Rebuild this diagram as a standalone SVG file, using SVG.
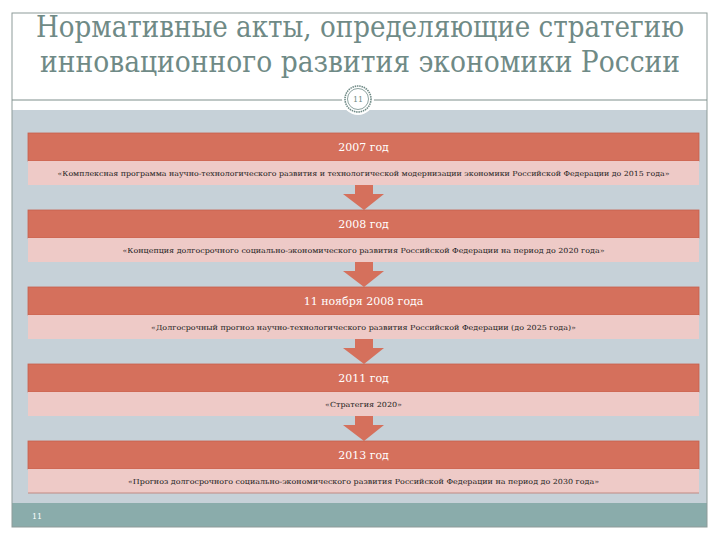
<svg xmlns="http://www.w3.org/2000/svg" width="720" height="540" viewBox="0 0 720 540">
<style>
.title{font-family:'DejaVu Serif Condensed','DejaVu Serif',serif;font-size:30px;fill:#6f8a86;text-anchor:middle}
.hdr{fill:#d5705c;stroke:#c6604d;stroke-width:0.8}
.pink{fill:#eecac7}
.ht{font-family:'DejaVu Serif','Liberation Serif',serif;font-size:11px;fill:#ffffff;text-anchor:middle}
.pt{font-family:'DejaVu Serif','Liberation Serif',serif;font-size:7px;fill:#1a1a1a;text-anchor:middle}
.arrow{fill:#d5705c}
</style>
<rect x="0" y="0" width="720" height="540" fill="#ffffff"/>
<rect x="12" y="110" width="695" height="393" fill="#c6d1d8"/>
<rect x="12" y="503" width="695" height="24" fill="#8aacab"/>
<rect x="12" y="13" width="695" height="514" fill="none" stroke="#8e9b99" stroke-width="1"/>
<line x1="12" y1="100" x2="707" y2="100" stroke="#7f8f8c" stroke-width="1"/>
<text class="title" x="360" y="37" textLength="648" lengthAdjust="spacingAndGlyphs">Нормативные акты, определяющие стратегию</text>
<text class="title" x="360" y="72" textLength="640" lengthAdjust="spacingAndGlyphs">инновационного развития экономики России</text>
<g id="badge">
<circle cx="358" cy="99" r="16" fill="#ffffff"/>
<circle cx="358" cy="99" r="13" fill="none" stroke="#6f8a86" stroke-width="1.6" stroke-dasharray="1.5 0.8"/>
<circle cx="358" cy="99" r="10.5" fill="none" stroke="#6f8a86" stroke-width="0.8"/>
<text x="358" y="102" font-family="'DejaVu Serif', serif" font-size="8" fill="#6f8a86" text-anchor="middle">11</text>
</g>
<g id="connectors">
<path class="arrow" d="M355,185 H373 V194 H384 L364,210 L343,194 H355 Z"/>
<path class="arrow" d="M355,262 H373 V271 H384 L364,287 L343,271 H355 Z"/>
<path class="arrow" d="M355,339 H373 V348 H384 L364,364 L343,348 H355 Z"/>
<path class="arrow" d="M355,416 H373 V425 H384 L364,441 L343,425 H355 Z"/>
</g>
<g id="node-2007">
<rect class="hdr" x="28" y="133" width="671" height="28"/>
<rect class="pink" x="28" y="161" width="671" height="24"/>
<text class="ht" x="363.5" y="151">2007 год</text>
<text class="pt" x="363.5" y="176" textLength="612" lengthAdjust="spacingAndGlyphs">«Комплексная программа научно-технологического развития и технологической модернизации экономики Российской Федерации до 2015 года»</text>
</g>
<g id="node-2008">
<rect class="hdr" x="28" y="210" width="671" height="28"/>
<rect class="pink" x="28" y="238" width="671" height="24"/>
<text class="ht" x="363.5" y="228">2008 год</text>
<text class="pt" x="363.5" y="253" textLength="482" lengthAdjust="spacingAndGlyphs">«Концепция долгосрочного социально-экономического развития Российской Федерации на период до 2020 года»</text>
</g>
<g id="node-2008-11">
<rect class="hdr" x="28" y="287" width="671" height="28"/>
<rect class="pink" x="28" y="315" width="671" height="24"/>
<text class="ht" x="363.5" y="305">11 ноября 2008 года</text>
<text class="pt" x="363.5" y="330" textLength="425" lengthAdjust="spacingAndGlyphs">«Долгосрочный прогноз научно-технологического развития Российской Федерации (до 2025 года)»</text>
</g>
<g id="node-2011">
<rect class="hdr" x="28" y="364" width="671" height="28"/>
<rect class="pink" x="28" y="392" width="671" height="24"/>
<text class="ht" x="363.5" y="382">2011 год</text>
<text class="pt" x="363.5" y="407" textLength="77" lengthAdjust="spacingAndGlyphs">«Стратегия 2020»</text>
</g>
<g id="node-2013">
<rect class="hdr" x="28" y="441" width="671" height="28"/>
<rect class="pink" x="28" y="469" width="671" height="24"/>
<line x1="28" y1="493" x2="699" y2="493" stroke="#c08a82" stroke-width="1"/>
<text class="ht" x="363.5" y="459">2013 год</text>
<text class="pt" x="363.5" y="484" textLength="471" lengthAdjust="spacingAndGlyphs">«Прогноз долгосрочного социально-экономического развития Российской Федерации на период до 2030 года»</text>
</g>
<text x="32" y="519" font-family="'DejaVu Serif', serif" font-size="8" fill="#ffffff">11</text>
</svg>
